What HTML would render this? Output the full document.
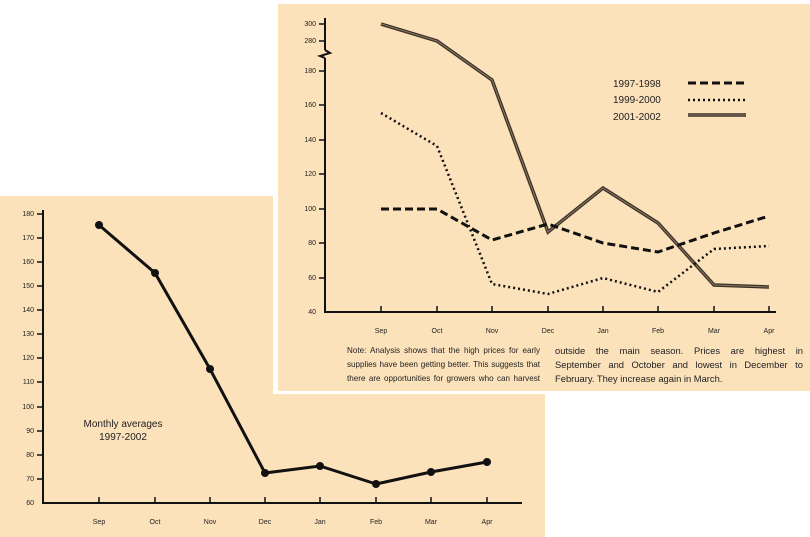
<!DOCTYPE html>
<html><head><meta charset="utf-8"><style>
html,body{margin:0;padding:0;background:#fff;width:810px;height:537px;overflow:hidden;position:relative}
svg{display:block}
text{font-family:"Liberation Sans",sans-serif;fill:#222}
.col{position:absolute;font-family:"Liberation Sans",sans-serif;color:#222;line-height:14px}
.col div{text-align:justify;text-align-last:justify;white-space:nowrap;height:14px}
.col div.l{text-align-last:left}
</style></head><body>
<svg width="810" height="537" viewBox="0 0 810 537" xmlns="http://www.w3.org/2000/svg">
<rect x="0" y="0" width="810" height="537" fill="#fff"/>
<rect x="0" y="196" width="545" height="341" fill="#fce2bb"/>
<g stroke="#111" stroke-width="2" fill="none">
<line x1="43" y1="210" x2="43" y2="504"/>
<line x1="42" y1="503" x2="522" y2="503"/>
</g>
<g stroke="#111" stroke-width="1.5">
<line x1="37" y1="214" x2="43" y2="214"/><line x1="37" y1="238" x2="43" y2="238"/><line x1="37" y1="262" x2="43" y2="262"/><line x1="37" y1="286" x2="43" y2="286"/><line x1="37" y1="310" x2="43" y2="310"/><line x1="37" y1="334" x2="43" y2="334"/><line x1="37" y1="358" x2="43" y2="358"/><line x1="37" y1="382" x2="43" y2="382"/><line x1="37" y1="407" x2="43" y2="407"/><line x1="37" y1="431" x2="43" y2="431"/><line x1="37" y1="455" x2="43" y2="455"/><line x1="37" y1="479" x2="43" y2="479"/>
<line x1="99" y1="497" x2="99" y2="503"/><line x1="155" y1="497" x2="155" y2="503"/><line x1="210" y1="497" x2="210" y2="503"/><line x1="265" y1="497" x2="265" y2="503"/><line x1="320" y1="497" x2="320" y2="503"/><line x1="376" y1="497" x2="376" y2="503"/><line x1="431" y1="497" x2="431" y2="503"/><line x1="487" y1="497" x2="487" y2="503"/>
</g>
<g font-size="7" text-anchor="end">
<text x="34" y="216">180</text><text x="34" y="240">170</text><text x="34" y="264">160</text><text x="34" y="288">150</text><text x="34" y="312">140</text><text x="34" y="336">130</text><text x="34" y="360">120</text><text x="34" y="384">110</text><text x="34" y="409">100</text><text x="34" y="433">90</text><text x="34" y="457">80</text><text x="34" y="481">70</text><text x="34" y="505">60</text>
</g>
<g font-size="7" text-anchor="middle">
<text x="99" y="524">Sep</text><text x="155" y="524">Oct</text><text x="210" y="524">Nov</text><text x="265" y="524">Dec</text><text x="320" y="524">Jan</text><text x="376" y="524">Feb</text><text x="431" y="524">Mar</text><text x="487" y="524">Apr</text>
</g>
<polyline points="99,225 155,273 210,369 265,473 320,466 376,484 431,472 487,462" fill="none" stroke="#111" stroke-width="3"/>
<g fill="#111"><circle cx="99" cy="225" r="4"/><circle cx="155" cy="273" r="4"/><circle cx="210" cy="369" r="4"/><circle cx="265" cy="473" r="4"/><circle cx="320" cy="466" r="4"/><circle cx="376" cy="484" r="4"/><circle cx="431" cy="472" r="4"/><circle cx="487" cy="462" r="4"/></g>
<g font-size="10" text-anchor="middle"><text x="123" y="427">Monthly averages</text><text x="123" y="440">1997-2002</text></g>

<rect x="273" y="0" width="537" height="394" fill="#fff"/>
<rect x="278" y="4" width="532" height="387" fill="#fce2bb"/>
<g stroke="#111" stroke-width="2" fill="none">
<line x1="325" y1="18" x2="325" y2="50"/>
<polyline points="325,50 330,53 320,56 325,58"/>
<line x1="325" y1="58" x2="325" y2="313"/>
<line x1="324" y1="312" x2="776" y2="312"/>
</g>
<g stroke="#111" stroke-width="1.5">
<line x1="319" y1="24" x2="325" y2="24"/><line x1="319" y1="41" x2="325" y2="41"/><line x1="319" y1="71" x2="325" y2="71"/><line x1="319" y1="105" x2="325" y2="105"/><line x1="319" y1="140" x2="325" y2="140"/><line x1="319" y1="174" x2="325" y2="174"/><line x1="319" y1="209" x2="325" y2="209"/><line x1="319" y1="243" x2="325" y2="243"/><line x1="319" y1="278" x2="325" y2="278"/>
<line x1="381" y1="306" x2="381" y2="312"/><line x1="437" y1="306" x2="437" y2="312"/><line x1="492" y1="306" x2="492" y2="312"/><line x1="548" y1="306" x2="548" y2="312"/><line x1="603" y1="306" x2="603" y2="312"/><line x1="658" y1="306" x2="658" y2="312"/><line x1="714" y1="306" x2="714" y2="312"/><line x1="769" y1="306" x2="769" y2="312"/>
</g>
<g font-size="7" text-anchor="end">
<text x="316" y="26">300</text><text x="316" y="43">280</text><text x="316" y="73">180</text><text x="316" y="107">160</text><text x="316" y="142">140</text><text x="316" y="176">120</text><text x="316" y="211">100</text><text x="316" y="245">80</text><text x="316" y="280">60</text><text x="316" y="314">40</text>
</g>
<g font-size="7" text-anchor="middle">
<text x="381" y="333">Sep</text><text x="437" y="333">Oct</text><text x="492" y="333">Nov</text><text x="548" y="333">Dec</text><text x="603" y="333">Jan</text><text x="658" y="333">Feb</text><text x="714" y="333">Mar</text><text x="769" y="333">Apr</text>
</g>
<polyline points="381,24 437,41 492,80 548,232 603,188 658,223 714,285 769,287" fill="none" stroke="#3a3024" stroke-width="3.5"/>
<polyline points="381,24 437,41 492,80 548,232 603,188 658,223 714,285 769,287" fill="none" stroke="#8a7a66" stroke-width="1"/>
<polyline points="381,113 437,146 492,284 548,294 603,278 658,292 714,249 769,246" fill="none" stroke="#111" stroke-width="2.5" stroke-dasharray="2,3"/>
<polyline points="381,209 437,209 492,240 548,224 603,243 658,252 714,233 769,216" fill="none" stroke="#111" stroke-width="3" stroke-dasharray="8,4"/>
<g font-size="10"><text x="613" y="87">1997-1998</text><text x="613" y="103">1999-2000</text><text x="613" y="120">2001-2002</text></g>
<line x1="688" y1="83" x2="746" y2="83" stroke="#111" stroke-width="3" stroke-dasharray="8,4"/>
<line x1="688" y1="100" x2="746" y2="100" stroke="#111" stroke-width="2.5" stroke-dasharray="2,3"/>
<line x1="688" y1="115" x2="746" y2="115" stroke="#3a3024" stroke-width="3.5"/>
<line x1="688" y1="115" x2="746" y2="115" stroke="#8a7a66" stroke-width="1"/>
</svg>
<div class="col" style="left:347px;top:344px;width:193px;font-size:8.1px">
<div>Note: Analysis shows that the high prices for early</div>
<div>supplies have been getting better. This suggests that</div>
<div>there are opportunities for growers who can harvest</div>
</div>
<div class="col" style="left:555px;top:344px;width:248px;font-size:9.4px">
<div>outside the main season. Prices are highest in</div>
<div>September and October and lowest in December to</div>
<div class="l">February. They increase again in March.</div>
</div>
</body></html>
